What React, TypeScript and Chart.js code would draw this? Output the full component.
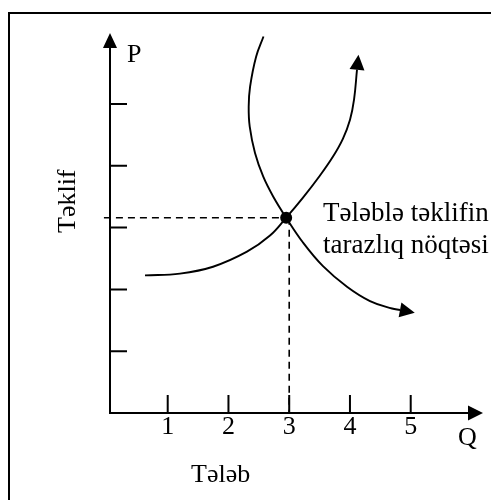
import React, { useEffect, useRef } from "react";
import { Chart, registerables } from "chart.js";

Chart.register(...registerables);

// ---- Data ----
const quantityTicks = [1, 2, 3, 4, 5];
const priceTicks = [1, 2, 3, 4, 5];

// Supply curve (Təklif), rising
const supplyQ = [0.626, 1.202, 1.746, 2.305, 2.684, 2.95, 3.227, 3.507, 3.721, 3.885, 4.001, 4.067, 4.116];
const supplyP = [2.227, 2.256, 2.367, 2.61, 2.871, 3.16, 3.485, 3.843, 4.149, 4.44, 4.746, 5.07, 5.555];

// Demand curve (Tələb), falling
const demandQ = [2.577, 2.455, 2.356, 2.333, 2.35, 2.437, 2.573, 2.738, 2.95, 3.227, 3.556, 3.951, 4.33, 4.692, 4.824];
const demandP = [6.092, 5.765, 5.28, 4.956, 4.633, 4.207, 3.824, 3.5, 3.16, 2.759, 2.377, 2.044, 1.812, 1.691, 1.667];

const equilibriumQ = 2.95;
const equilibriumP = 3.16;
const guideQ = 3.0;
const guideStartQ = -0.05;

const xAxisName = "Q";
const yAxisName = "P";
const demandTitle = "Tələb";
const supplyTitle = "Təklif";
const noteLines = ["Tələblə təklifin", "tarazlıq nöqtəsi"];

const X_MIN = 0.05;
const X_MAX = 6.19;
const Y_MIN = 0;
const Y_MAX = 6.149;

const FONT = '"Liberation Serif", "Times New Roman", serif';

function drawHead(ctx: CanvasRenderingContext2D, bx: number, by: number, angle: number, len: number, half: number) {
  const tx = bx + Math.cos(angle) * len;
  const ty = by + Math.sin(angle) * len;
  const px = -Math.sin(angle) * half;
  const py = Math.cos(angle) * half;
  ctx.beginPath();
  ctx.moveTo(tx, ty);
  ctx.lineTo(bx + px, by + py);
  ctx.lineTo(bx - px, by - py);
  ctx.closePath();
  ctx.fill();
}

const decorPlugin = {
  id: "decor",
  beforeDraw(chart: any) {
    const ctx = chart.ctx as CanvasRenderingContext2D;
    ctx.save();
    ctx.fillStyle = "#fff";
    ctx.fillRect(0, 0, chart.width, chart.height);
    ctx.restore();
  },
  afterDatasetsDraw(chart: any) {
    const ctx = chart.ctx as CanvasRenderingContext2D;
    ctx.save();
    ctx.fillStyle = "#000";
    chart.data.datasets.forEach((ds: any, i: number) => {
      if (!ds.arrowEnd) return;
      const pts = chart.getDatasetMeta(i).data;
      const a = pts[pts.length - 2];
      const b = pts[pts.length - 1];
      const ang = Math.atan2(b.y - a.y, b.x - a.x);
      drawHead(ctx, b.x, b.y, ang, 15, 7.5);
    });
    ctx.restore();
  },
  afterDraw(chart: any) {
    const ctx = chart.ctx as CanvasRenderingContext2D;
    const area = chart.chartArea;
    const xs = chart.scales.x;
    const ys = chart.scales.y;
    ctx.save();
    ctx.strokeStyle = "#000";
    ctx.fillStyle = "#000";

    // frame
    ctx.lineWidth = 2;
    ctx.beginPath();
    ctx.moveTo(9, chart.height + 10);
    ctx.lineTo(9, 13);
    ctx.lineTo(chart.width + 10, 13);
    ctx.stroke();

    // axes
    const x0 = area.left;
    const y0 = ys.getPixelForValue(0);
    ctx.beginPath();
    ctx.moveTo(x0, y0 + 1);
    ctx.lineTo(x0, area.top + 14);
    ctx.moveTo(x0 - 1, y0);
    ctx.lineTo(area.right - 14, y0);
    ctx.stroke();
    drawHead(ctx, x0, area.top + 15, -Math.PI / 2, 15, 7);
    drawHead(ctx, area.right - 15, y0, 0, 15, 7.5);

    // tick marks
    ctx.lineWidth = 2;
    ctx.beginPath();
    quantityTicks.forEach((v) => {
      const px = xs.getPixelForValue(v);
      ctx.moveTo(px, y0);
      ctx.lineTo(px, y0 - 18);
    });
    priceTicks.forEach((v) => {
      const py = ys.getPixelForValue(v);
      ctx.moveTo(x0, py);
      ctx.lineTo(x0 + 17, py);
    });
    ctx.stroke();

    // texts
    ctx.textAlign = "left";
    ctx.textBaseline = "alphabetic";
    ctx.font = `26px ${FONT}`;
    ctx.fillText(yAxisName, 127, 62);
    ctx.fillText(xAxisName, 458, 445);
    ctx.fillText(demandTitle, 191, 482);
    ctx.save();
    ctx.translate(75, 233);
    ctx.rotate(-Math.PI / 2);
    ctx.fillText(supplyTitle, 0, 0);
    ctx.restore();
    ctx.font = `27px ${FONT}`;
    ctx.fillText(noteLines[0], 323, 221);
    ctx.fillText(noteLines[1], 323, 253);

    ctx.restore();
  },
};

export default function App() {
  const ref = useRef<HTMLCanvasElement | null>(null);

  useEffect(() => {
    if (!ref.current) return;
    const lineDs = (q: number[], p: number[]) => ({
      data: q.map((x, i) => ({ x, y: p[i] })),
      showLine: true,
      borderColor: "#000",
      borderWidth: 1.9,
      pointRadius: 0,
      pointHoverRadius: 0,
      tension: 0.4,
      fill: false,
      arrowEnd: true,
    });
    const chart = new Chart(ref.current, {
      type: "scatter",
      data: {
        datasets: [
          lineDs(supplyQ, supplyP) as any,
          lineDs(demandQ, demandP) as any,
          {
            data: [
              { x: guideStartQ, y: equilibriumP },
              { x: equilibriumQ, y: equilibriumP },
            ],
            showLine: true,
            borderColor: "#000",
            borderWidth: 1.6,
            borderDash: [7, 5],
            pointRadius: 0,
            clip: false,
          } as any,
          {
            data: [
              { x: guideQ, y: equilibriumP },
              { x: guideQ, y: 0 },
            ],
            showLine: true,
            borderColor: "#000",
            borderWidth: 1.6,
            borderDash: [7, 5],
            pointRadius: 0,
            clip: false,
          } as any,
          {
            data: [{ x: equilibriumQ, y: equilibriumP }],
            showLine: false,
            pointRadius: 6,
            pointBackgroundColor: "#000",
            pointBorderColor: "#000",
            pointBorderWidth: 0,
          } as any,
        ],
      },
      options: {
        animation: false,
        responsive: false,
        events: [],
        layout: { padding: { left: 110, top: 33, right: 8, bottom: 37 } },
        plugins: { legend: { display: false }, tooltip: { enabled: false } },
        scales: {
          x: {
            type: "linear",
            min: X_MIN,
            max: X_MAX,
            grid: { display: false, drawTicks: false },
            border: { display: false },
            afterBuildTicks: (s: any) => {
              s.ticks = quantityTicks.map((v) => ({ value: v }));
            },
            afterFit: (s: any) => {
              s.height = 50;
            },
            ticks: {
              padding: 0,
              color: "#000",
              autoSkip: false,
              maxRotation: 0,
              font: { family: FONT, size: 26, lineHeight: 1.12 },
              callback: (v: any) => String(v),
            },
          },
          y: {
            type: "linear",
            display: false,
            min: Y_MIN,
            max: Y_MAX,
          },
        },
      },
      plugins: [decorPlugin],
    });
    return () => chart.destroy();
  }, []);

  return (
    <div style={{ position: "fixed", left: 0, top: 0, width: 491, height: 500, background: "#fff" }}>
      <canvas ref={ref} width={491} height={500} style={{ display: "block", width: 491, height: 500 }} />
    </div>
  );
}
